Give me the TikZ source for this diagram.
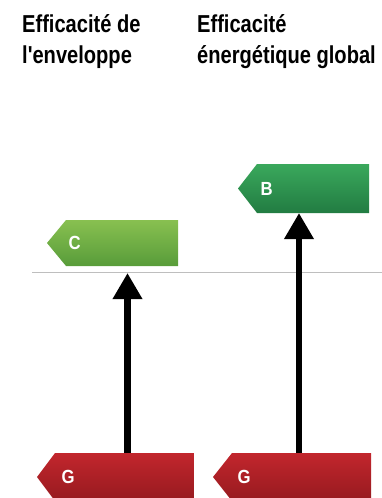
\documentclass[tikz,border=0pt]{standalone}
\usepackage{fontspec}
\usepackage{graphicx}
\setmainfont{Liberation Sans}
\usetikzlibrary{arrows.meta}
\definecolor{Ctop}{RGB}{136,192,80}
\definecolor{Cbot}{RGB}{88,156,58}
\definecolor{Btop}{RGB}{58,168,92}
\definecolor{Bbot}{RGB}{34,124,66}
\definecolor{Gtop}{RGB}{194,38,45}
\definecolor{Gbot}{RGB}{150,26,31}
\definecolor{sepgray}{RGB}{190,190,190}
\newcommand{\energytag}[7]{%
  \shade[top color=#6,bottom color=#7]
    (#1,{(#4+#5)/2}) -- (#2,#4) -- (#3,#4) -- (#3,#5) -- (#2,#5) -- cycle;}
\newcommand{\tagletter}[1]{\scalebox{0.88}[1]{#1}}
\tikzset{
  title/.style={font=\bfseries\fontsize{24.5}{30}\selectfont,anchor=base west,inner sep=0pt},
  letter/.style={font=\bfseries\fontsize{19}{19}\selectfont,text=white,anchor=west,inner sep=0pt},
  conn/.style={line width=6.5pt,-{Triangle[width=28pt,length=26pt]}},
}
\begin{document}
\begin{tikzpicture}[x=1pt,y=-1pt]
\useasboundingbox (0,0) rectangle (382,498);
% titles
\node[title] (t1a) at (22,32.7) {\scalebox{0.82}[1]{Efficacité de}};
\node[title] (t1b) at (22,63) {\scalebox{0.82}[1]{l\textquotesingle enveloppe}};
\node[title] (t2a) at (197,32.7) {\scalebox{0.82}[1]{Efficacité}};
\node[title] (t2b) at (197,63) {\scalebox{0.82}[1]{énergétique global}};
% separator
\draw[sepgray,line width=1pt] (32,272) -- (382,272);
% tags
\energytag{47}{66}{178}{220}{266}{Ctop}{Cbot}
\energytag{238}{257}{369}{164}{213}{Btop}{Bbot}
\energytag{37}{55}{194}{453}{501}{Gtop}{Gbot}
\energytag{213}{232}{371}{453}{501}{Gtop}{Gbot}
\node[letter] (lc) at (68.5,243) {\tagletter{C}};
\node[letter] (lb) at (260.5,188.5) {\tagletter{B}};
\node[letter] (lg1) at (61.5,477) {\tagletter{G}};
\node[letter] (lg2) at (237.5,477) {\tagletter{G}};
% connector ends
\coordinate (g1top) at (127.5,453);
\coordinate (cbelow) at (127.5,273);
\coordinate (g2top) at (299,453);
\coordinate (bbelow) at (299,213);
\draw[conn] (g1top) -- (cbelow);
\draw[conn] (g2top) -- (bbelow);
\end{tikzpicture}
\end{document}
